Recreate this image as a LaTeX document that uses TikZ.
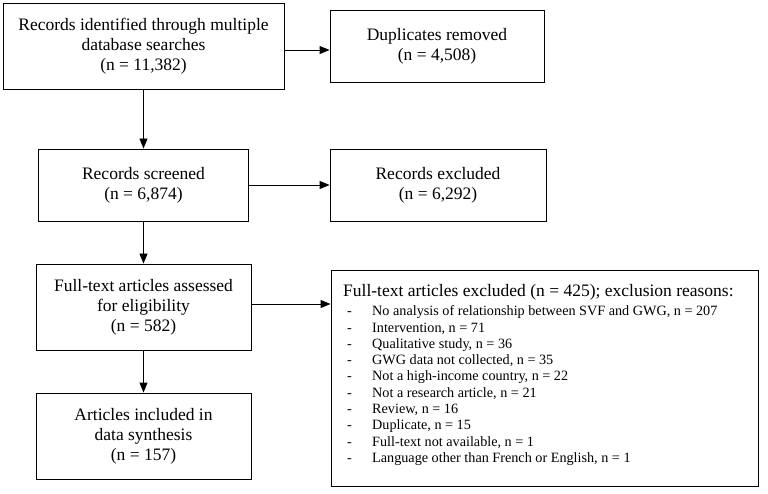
\documentclass[tikz,border=0pt]{standalone}
\usepackage{fontspec}
\setmainfont{Liberation Serif}
\usetikzlibrary{arrows.meta}
\tikzset{
  box/.style={draw, line width=0.9pt, align=center, inner sep=2pt,
    font=\fontsize{17.5}{20}\selectfont},
  arr/.style={line width=0.9pt, -{Triangle[length=10pt,width=8pt]}},
}
\begin{document}
\begin{tikzpicture}[x=1pt,y=-1pt]
\useasboundingbox (0,0) rectangle (768,494);
\node[box, minimum width=281, minimum height=86] (b1) at (143.5,46)
  {Records identified through multiple\\database searches\\(n = 11,382)};
\node[box, minimum width=214, minimum height=72] (dup) at (437,46)
  {Duplicates removed\\(n = 4,508)};
\node[box, minimum width=210, minimum height=72] (scr) at (143.5,185)
  {Records screened\\(n = 6,874)};
\node[box, minimum width=216, minimum height=72] (exc) at (438,185)
  {Records excluded\\(n = 6,292)};
\node[box, minimum width=215, minimum height=86] (ft) at (143.5,307)
  {Full-text articles assessed\\for eligibility\\(n = 582)};
\node[box, minimum width=215, minimum height=86] (inc) at (143.5,436)
  {Articles included in\\data synthesis\\(n = 157)};
\node[draw, line width=0.9pt, minimum width=427, minimum height=216, inner sep=0pt] (ftx) at (544.5,378) {};
\node[anchor=base west, inner sep=0pt, align=left] (ftxt) at (343,297)
  {\fontsize{14.2}{16.3}\selectfont
   \begin{tabular}[t]{@{}p{29pt}@{}l@{}}
   \multicolumn{2}{@{}l@{}}{\fontsize{17.5}{20}\selectfont Full-text articles excluded (n = 425); exclusion reasons:}\\[2.5pt]
   \hspace*{4pt}- & No analysis of relationship between SVF and GWG, n = 207\\
   \hspace*{4pt}- & Intervention, n = 71\\
   \hspace*{4pt}- & Qualitative study, n = 36\\
   \hspace*{4pt}- & GWG data not collected, n = 35\\
   \hspace*{4pt}- & Not a high-income country, n = 22\\
   \hspace*{4pt}- & Not a research article, n = 21\\
   \hspace*{4pt}- & Review, n = 16\\
   \hspace*{4pt}- & Duplicate, n = 15\\
   \hspace*{4pt}- & Full-text not available, n = 1\\
   \hspace*{4pt}- & Language other than French or English, n = 1
   \end{tabular}};
\draw[arr] ([yshift=-4pt]b1.east) -- ([yshift=-4pt]b1.east -| dup.west);
\draw[arr] (b1.south) -- (scr.north);
\draw[arr] (scr.east) -- (exc.west);
\draw[arr] (scr.south) -- (ft.north);
\draw[arr] ([yshift=3pt]ft.east) -- ([yshift=3pt]ft.east -| ftx.west);
\draw[arr] (ft.south) -- (inc.north);
\end{tikzpicture}
\end{document}
